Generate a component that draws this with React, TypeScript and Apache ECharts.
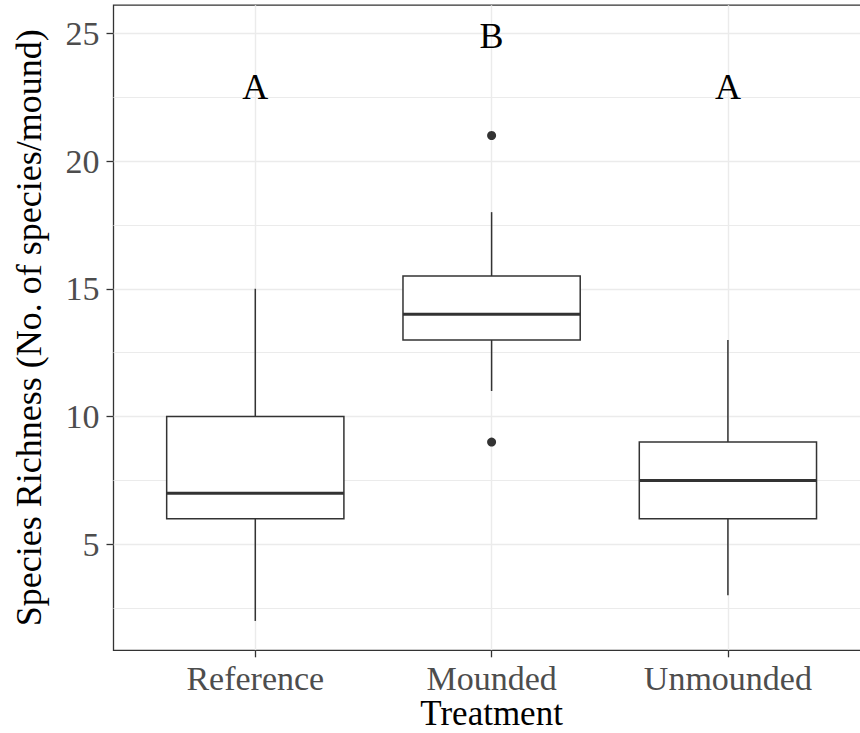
import React, { useEffect, useRef } from "react";
import * as echarts from "echarts";

const categories = ["Reference", "Mounded", "Unmounded"];
const lowerWhisker = [2, 11, 3];
const q1 = [6, 13, 6];
const median = [7, 14, 7.5];
const q3 = [10, 15.5, 9];
const upperWhisker = [15, 18, 13];
const outlierCategory = ["Mounded", "Mounded"];
const outlierValue = [21, 9];
const letters = ["A", "B", "A"];
const letterY = [22.9, 24.9, 22.9];
const yTicks = [5, 10, 15, 20, 25];
const yMinor = [2.5, 7.5, 12.5, 17.5, 22.5];

const FONT = "Liberation Serif";
const DARK = "#333333";
const GRID = "#EBEBEB";

export default function App() {
  const ref = useRef<HTMLDivElement>(null);
  useEffect(() => {
    if (!ref.current) return;
    const chart = echarts.init(ref.current, null, { renderer: "svg" });
    const catPos = categories.map((_, i) => i + 1);
    const boxData = categories.map((_, i) => [
      catPos[i],
      lowerWhisker[i],
      q1[i],
      median[i],
      q3[i],
      upperWhisker[i],
    ]);
    const outlierData = outlierCategory.map((c, i) => [
      categories.indexOf(c) + 1,
      outlierValue[i],
    ]);
    const letterData = letters.map((l, i) => ({ value: [catPos[i], letterY[i]], name: l }));

    const option: any = {
      animation: false,
      backgroundColor: "#ffffff",
      grid: {
        left: 113.5,
        top: 5.2,
        width: 756.2,
        height: 645.1,
        show: true,
        borderColor: DARK,
        borderWidth: 1.3,
        backgroundColor: "transparent",
        containLabel: false,
        outerBoundsMode: "none",
      },
      xAxis: {
        type: "value",
        min: 0.4,
        max: 3.6,
        name: "Treatment",
        nameLocation: "middle",
        nameGap: 45,
        nameMoveOverlap: false,
        nameTextStyle: { fontFamily: FONT, fontSize: 35, lineHeight: 36, color: "#000000" },
        axisLine: { show: false },
        axisTick: {
          show: true,
          length: 7,
          customValues: catPos,
          lineStyle: { color: DARK, width: 1.3 },
        },
        axisLabel: {
          customValues: catPos,
          margin: 11,
          fontFamily: FONT,
          fontSize: 34,
          color: "#4D4D4D",
          formatter: (v: number) => categories[Math.round(v) - 1] ?? "",
        },
        splitLine: { show: true, lineStyle: { color: GRID, width: 1.4 } },
      },
      yAxis: [
        {
          type: "value",
          min: 0.85,
          max: 26.1,
          name: "Species Richness (No. of species/mound)",
          nameLocation: "middle",
          nameGap: 67,
          nameMoveOverlap: false,
          nameTextStyle: { fontFamily: FONT, fontSize: 36, color: "#000000" },
          axisLine: { show: false },
          axisTick: {
            show: true,
            length: 7,
            customValues: yTicks,
            lineStyle: { color: DARK, width: 1.3 },
          },
          axisLabel: {
            customValues: yTicks,
            margin: 14,
            fontFamily: FONT,
            fontSize: 34,
            color: "#4D4D4D",
            padding: [4, 0, 0, 0],
          },
          splitLine: { show: true, lineStyle: { color: GRID, width: 1.4 } },
        },
        {
          type: "value",
          min: 0.85,
          max: 26.1,
          position: "left",
          axisLine: { show: false },
          axisTick: { show: false, customValues: yMinor },
          axisLabel: { show: false, customValues: yMinor },
          splitLine: { show: true, lineStyle: { color: GRID, width: 1 } },
        },
      ],
      series: [
        {
          type: "custom",
          z: 5,
          data: boxData,
          encode: { x: 0, y: [1, 2, 3, 4, 5] },
          renderItem: (_params: any, api: any) => {
            const x = api.value(0);
            const pLo = api.coord([x, api.value(1)]);
            const pQ1 = api.coord([x, api.value(2)]);
            const pMed = api.coord([x, api.value(3)]);
            const pQ3 = api.coord([x, api.value(4)]);
            const pHi = api.coord([x, api.value(5)]);
            const halfW = api.size([0.75, 0])[0] / 2;
            const lineStyle = { stroke: DARK, lineWidth: 1.5 };
            return {
              type: "group",
              children: [
                {
                  type: "line",
                  shape: { x1: pHi[0], y1: pHi[1], x2: pQ3[0], y2: pQ3[1] },
                  style: lineStyle,
                },
                {
                  type: "line",
                  shape: { x1: pQ1[0], y1: pQ1[1], x2: pLo[0], y2: pLo[1] },
                  style: lineStyle,
                },
                {
                  type: "rect",
                  shape: {
                    x: pQ3[0] - halfW,
                    y: pQ3[1],
                    width: 2 * halfW,
                    height: pQ1[1] - pQ3[1],
                  },
                  style: { fill: "#ffffff", stroke: DARK, lineWidth: 1.5 },
                },
                {
                  type: "line",
                  shape: {
                    x1: pMed[0] - halfW,
                    y1: pMed[1],
                    x2: pMed[0] + halfW,
                    y2: pMed[1],
                  },
                  style: { stroke: DARK, lineWidth: 3 },
                },
              ],
            };
          },
        },
        {
          type: "scatter",
          z: 6,
          data: outlierData,
          symbol: "circle",
          symbolSize: 9,
          itemStyle: { color: DARK, opacity: 1 },
        },
        {
          type: "scatter",
          z: 7,
          data: letterData,
          symbolSize: 0,
          itemStyle: { opacity: 1 },
          label: {
            show: true,
            position: "inside",
            formatter: (p: any) => p.name,
            fontFamily: FONT,
            fontSize: 36,
            color: "#000000",
          },
        },
      ],
    };
    chart.setOption(option);
    return () => chart.dispose();
  }, []);
  return (
    <div
      ref={ref}
      style={{ position: "absolute", left: 0, top: 0, width: 860, height: 733 }}
    />
  );
}
